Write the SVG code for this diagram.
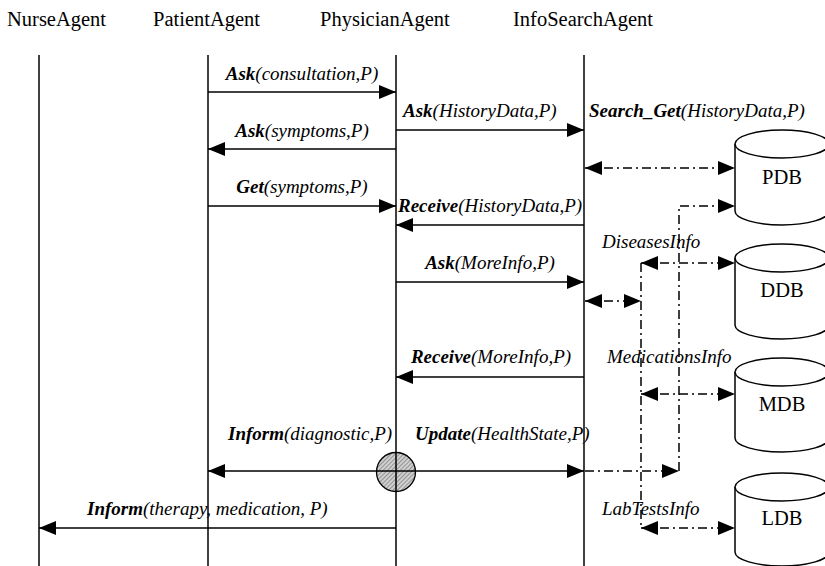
<svg xmlns="http://www.w3.org/2000/svg" width="825" height="566" viewBox="0 0 825 566">
<style>
  .hdr{font-family:"Liberation Serif","Times New Roman",serif;font-size:20.5px;fill:#000}
  .lbl{font-family:"Liberation Serif","Times New Roman",serif;font-size:19px;font-style:italic;fill:#000}
  .b{font-weight:bold}
  .life{stroke:#000;stroke-width:1.5;fill:none}
  .msg{stroke:#000;stroke-width:1.5;fill:none;marker-end:url(#ah)}
  .dd{stroke:#000;stroke-width:1.5;fill:none;stroke-dasharray:9 4 2 4}
  .end{marker-end:url(#ah)}
  .both{marker-start:url(#ahs);marker-end:url(#ah)}
  .cyl{fill:#fff;stroke:#000;stroke-width:1.5}
</style>
<defs>
  <marker id="ah" markerUnits="userSpaceOnUse" markerWidth="17" markerHeight="14" viewBox="0 0 17 14" refX="17" refY="7" orient="auto">
    <path d="M0,0 L17,7 L0,14 z" fill="#000"/>
  </marker>
  <marker id="ahs" markerUnits="userSpaceOnUse" markerWidth="17" markerHeight="14" viewBox="0 0 17 14" refX="17" refY="7" orient="auto-start-reverse">
    <path d="M0,0 L17,7 L0,14 z" fill="#000"/>
  </marker>
  <pattern id="hatch" patternUnits="userSpaceOnUse" width="3" height="3" patternTransform="rotate(45)">
    <rect width="3" height="3" fill="#d0d0d0"/>
    <line x1="0" y1="0" x2="0" y2="3" stroke="#555" stroke-width="1"/>
  </pattern>
</defs>
<rect width="825" height="566" fill="#fff"/>

<g id="NurseAgent">
  <text class="hdr" x="7" y="26">NurseAgent</text>
  <line class="life" x1="39" y1="55" x2="39" y2="566"/>
</g>
<g id="PatientAgent">
  <text class="hdr" x="153" y="26">PatientAgent</text>
  <line class="life" x1="208" y1="55" x2="208" y2="566"/>
</g>
<g id="PhysicianAgent">
  <text class="hdr" x="320" y="26">PhysicianAgent</text>
  <line class="life" x1="396" y1="55" x2="396" y2="566"/>
</g>
<g id="InfoSearchAgent">
  <text class="hdr" x="513" y="26">InfoSearchAgent</text>
  <line class="life" x1="584" y1="55" x2="584" y2="566"/>
</g>

<g id="PDB">
  <path class="cyl" d="M735,144 L735,211 A47,14 0 0,0 829,211 L829,144"/>
  <ellipse class="cyl" cx="782" cy="144" rx="47" ry="14"/>
  <text class="hdr" x="782" y="184" text-anchor="middle">PDB</text>
</g>
<g id="DDB">
  <path class="cyl" d="M735,258 L735,325 A47,14 0 0,0 829,325 L829,258"/>
  <ellipse class="cyl" cx="782" cy="258" rx="47" ry="14"/>
  <text class="hdr" x="782" y="297" text-anchor="middle">DDB</text>
</g>
<g id="MDB">
  <path class="cyl" d="M735,372 L735,438 A47,14 0 0,0 829,438 L829,372"/>
  <ellipse class="cyl" cx="782" cy="372" rx="47" ry="14"/>
  <text class="hdr" x="782" y="411" text-anchor="middle">MDB</text>
</g>
<g id="LDB">
  <path class="cyl" d="M735,487 L735,552 A47,14 0 0,0 829,552 L829,487"/>
  <ellipse class="cyl" cx="782" cy="487" rx="47" ry="14"/>
  <text class="hdr" x="782" y="525" text-anchor="middle">LDB</text>
</g>

<g id="connectors">
  <line class="msg" x1="208" y1="92" x2="396" y2="92"/>
  <line class="msg" x1="396" y1="130" x2="584" y2="130"/>
  <line class="msg" x1="396" y1="149" x2="208" y2="149"/>
  <line class="msg" x1="208" y1="206" x2="396" y2="206"/>
  <line class="msg" x1="584" y1="225" x2="396" y2="225"/>
  <line class="msg" x1="396" y1="282" x2="584" y2="282"/>
  <line class="msg" x1="584" y1="377" x2="396" y2="377"/>
  <line class="msg" x1="396" y1="471" x2="208" y2="471"/>
  <line class="msg" x1="396" y1="471" x2="584" y2="471"/>
  <line class="msg" x1="396" y1="528" x2="39" y2="528"/>

  <line class="dd both" x1="585" y1="168" x2="735" y2="168"/>
  <polyline class="dd end" points="679,471 679,206 735,206"/>
  <line class="dd end" x1="585" y1="471" x2="679" y2="471"/>
  <line class="dd both" x1="585" y1="301" x2="641" y2="301"/>
  <line class="dd" x1="641" y1="263" x2="641" y2="528"/>
  <line class="dd both" x1="641" y1="263" x2="735" y2="263"/>
  <line class="dd both" x1="641" y1="394" x2="735" y2="394"/>
  <line class="dd both" x1="641" y1="528" x2="735" y2="528"/>

  <g id="synch">
    <circle cx="396" cy="472" r="19.5" fill="url(#hatch)" stroke="#000" stroke-width="1.3"/>
    <line class="life" x1="396" y1="452" x2="396" y2="492"/>
    <line class="life" x1="376" y1="471" x2="416" y2="471"/>
  </g>

  <text class="lbl" x="302" y="80" text-anchor="middle"><tspan class="b">Ask</tspan>(consultation,P)</text>
  <text class="lbl" x="403" y="117"><tspan class="b">Ask</tspan>(HistoryData,P)</text>
  <text class="lbl" x="589" y="117"><tspan class="b">Search_Get</tspan>(HistoryData,P)</text>
  <text class="lbl" x="302" y="137" text-anchor="middle"><tspan class="b">Ask</tspan>(symptoms,P)</text>
  <text class="lbl" x="302" y="193" text-anchor="middle"><tspan class="b">Get</tspan>(symptoms,P)</text>
  <text class="lbl" x="398" y="212"><tspan class="b">Receive</tspan>(HistoryData,P)</text>
  <text class="lbl" x="602" y="248">DiseasesInfo</text>
  <text class="lbl" x="490" y="269" text-anchor="middle"><tspan class="b">Ask</tspan>(MoreInfo,P)</text>
  <text class="lbl" x="491" y="363" text-anchor="middle"><tspan class="b">Receive</tspan>(MoreInfo,P)</text>
  <text class="lbl" x="607" y="363">MedicationsInfo</text>
  <text class="lbl" x="228" y="440"><tspan class="b">Inform</tspan>(diagnostic,P)</text>
  <text class="lbl" x="415" y="440"><tspan class="b">Update</tspan>(HealthState,P)</text>
  <text class="lbl" x="87" y="515"><tspan class="b">Inform</tspan>(therapy, medication, P)</text>
  <text class="lbl" x="602" y="515">LabTestsInfo</text>
</g>
</svg>
